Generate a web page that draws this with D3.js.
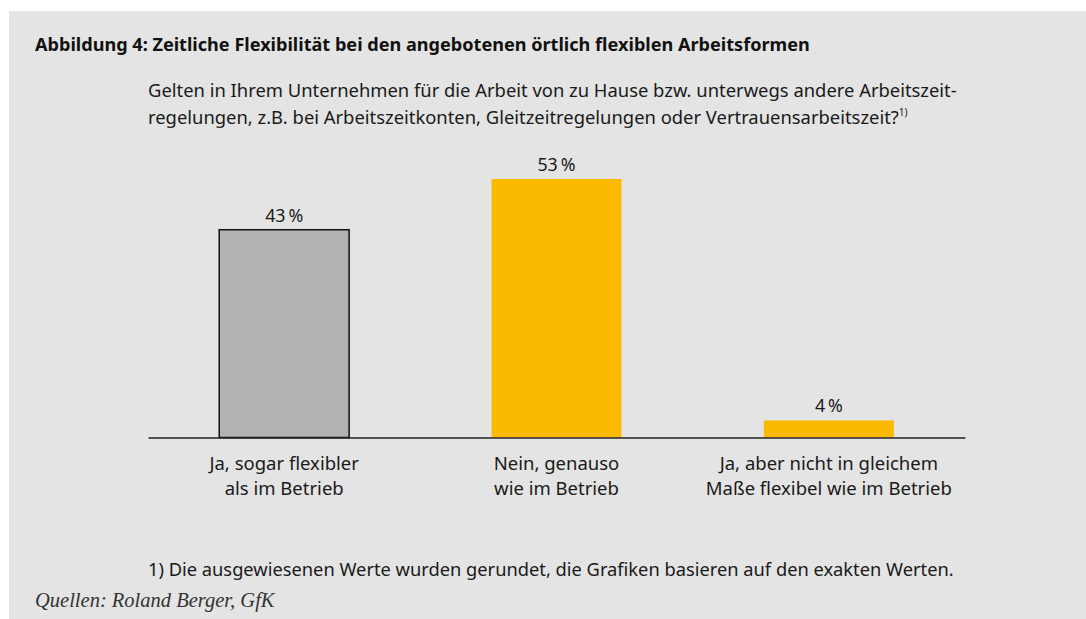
<!DOCTYPE html>
<html>
<head>
<meta charset="utf-8">
<script src="https://cdn.jsdelivr.net/npm/d3@7"></script>
<style>
  html, body { margin: 0; padding: 0; background: #ffffff; }
  svg { display: block; }
</style>
</head>
<body>
<svg id="chart" width="1086" height="619"></svg>
<script>
// ---- Data ----
const categories = [
  ["Ja, sogar flexibler", "als im Betrieb"],
  ["Nein, genauso", "wie im Betrieb"],
  ["Ja, aber nicht in gleichem", "Maße flexibel wie im Betrieb"]
];
const values = [42.6, 53.0, 3.5];
const barColors = ["#b1b2b3", "#fbb900", "#fbb900"];
const titleText = "Abbildung 4: Zeitliche Flexibilität bei den angebotenen örtlich flexiblen Arbeitsformen";
const questionLines = [
  "Gelten in Ihrem Unternehmen für die Arbeit von zu Hause bzw. unterwegs andere Arbeitszeit-",
  "regelungen, z.B. bei Arbeitszeitkonten, Gleitzeitregelungen oder Vertrauensarbeitszeit?"
];
const footnoteText = "1) Die ausgewiesenen Werte wurden gerundet, die Grafiken basieren auf den exakten Werten.";
const sourceText = "Quellen: Roland Berger, GfK";

// ---- Drawing ----
const svg = d3.select("#chart");
const sans = "'Noto Sans', 'Open Sans', sans-serif";

svg.append("rect").attr("x", 9).attr("y", 11).attr("width", 1077).attr("height", 608).attr("fill", "#e3e4e3");

svg.append("text").attr("x", 35).attr("y", 51)
  .attr("font-family", sans).attr("font-weight", "bold").attr("font-size", 18.1)
  .attr("fill", "#111").text(titleText);

const q = svg.append("text").attr("font-family", sans).attr("font-size", 18.4).attr("fill", "#1a1a1a");
questionLines.forEach((l, i) => {
  const t = q.append("tspan").attr("x", 148).attr("y", 97 + i * 26.5).text(l);
  if (i === questionLines.length - 1) {
    t.append("tspan").attr("font-size", 10).attr("dy", -8).text("1)");
  }
});

const x = d3.scaleBand().domain(d3.range(values.length)).range([148, 965])
  .paddingInner(0.523).paddingOuter(0.2615);
const y = d3.scaleLinear().domain([0, 53]).range([437.5, 179]);

svg.selectAll("rect.bar").data(values).join("rect").attr("class", "bar")
  .attr("x", (d, i) => x(i)).attr("width", x.bandwidth())
  .attr("y", d => y(d)).attr("height", d => y(0) - y(d))
  .attr("fill", (d, i) => barColors[i])
  .attr("stroke", (d, i) => i === 0 ? "#111" : "none")
  .attr("stroke-width", 1.5);

svg.selectAll("text.val").data(values).join("text").attr("class", "val")
  .attr("x", (d, i) => x(i) + x.bandwidth() / 2).attr("y", d => y(d) - 8)
  .attr("text-anchor", "middle").attr("font-family", sans).attr("font-size", 17.8)
  .attr("fill", "#1a1a1a").text(d => Math.round(d) + "\u202F%");

const axis = d3.axisBottom(x).tickSize(0).tickFormat(() => "");
const ag = svg.append("g").attr("transform", `translate(0,${y(0)})`).call(axis);
ag.select(".domain").attr("stroke", "#222").attr("stroke-width", 1.5);

const cl = svg.selectAll("text.cat").data(categories).join("text").attr("class", "cat")
  .attr("text-anchor", "middle").attr("font-family", sans).attr("font-size", 18.5).attr("fill", "#1a1a1a");
cl.selectAll("tspan").data((d, i) => d.map(s => ({ s, i }))).join("tspan")
  .attr("x", d => x(d.i) + x.bandwidth() / 2).attr("y", (d, j) => 470 + j * 25).text(d => d.s);

svg.append("text").attr("x", 148).attr("y", 576)
  .attr("font-family", sans).attr("font-size", 18.3).attr("fill", "#1a1a1a").text(footnoteText);

svg.append("text").attr("x", 35).attr("y", 607)
  .attr("font-family", "'Liberation Serif', serif").attr("font-style", "italic").attr("font-size", 20.5)
  .attr("fill", "#333").text(sourceText);
</script>
</body>
</html>
